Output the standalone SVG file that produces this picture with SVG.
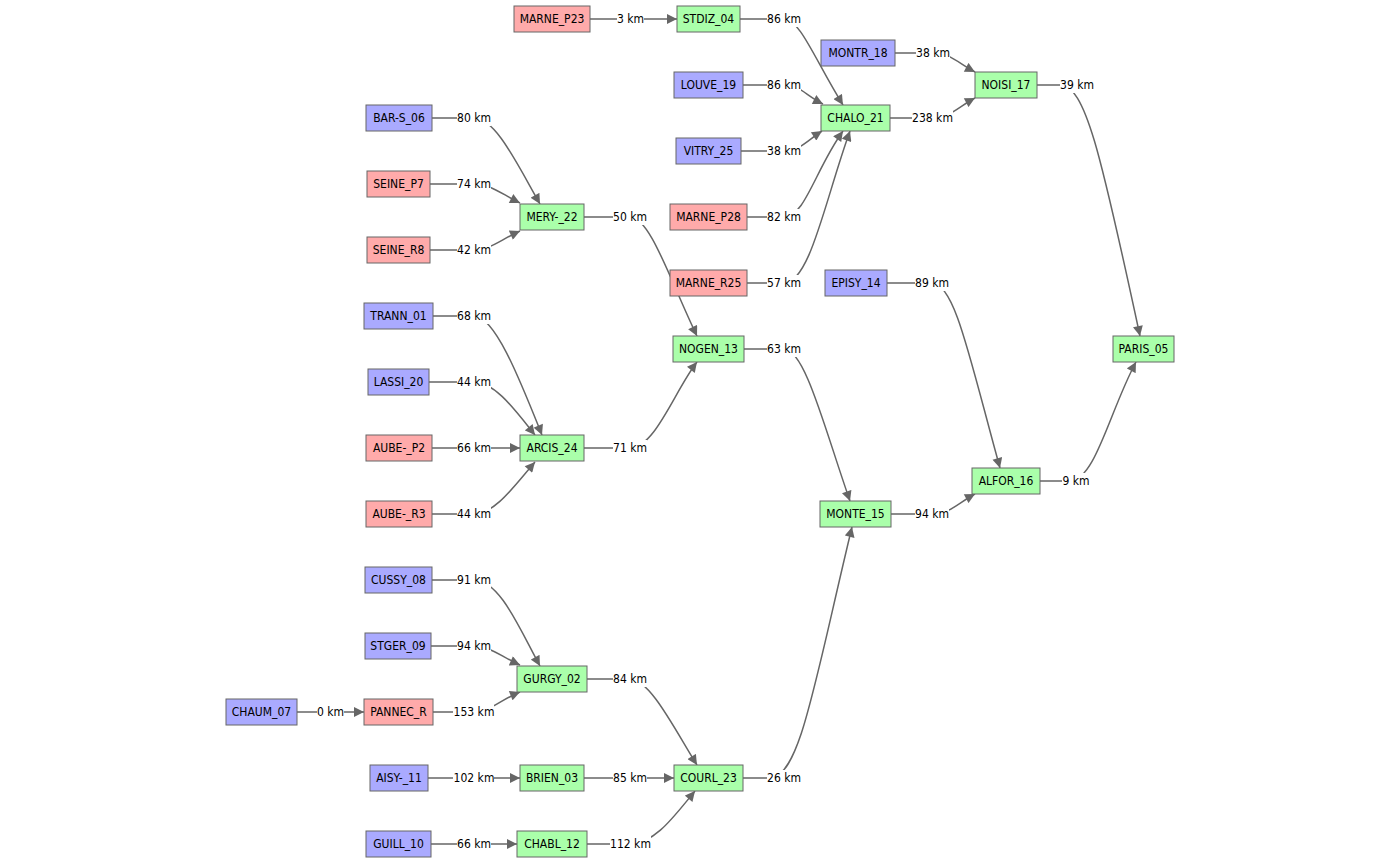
<svg xmlns="http://www.w3.org/2000/svg" width="1400" height="865" viewBox="0 0 1400 865">
  <defs>
    <marker id="arrow" viewBox="0 0 10 10" refX="10" refY="5" markerUnits="userSpaceOnUse" markerWidth="11" markerHeight="10" orient="auto">
      <path d="M0,0 L10,5 L0,10 z" fill="#666"/>
    </marker>
    <style>
      text { font-family: "DejaVu Sans Condensed", "DejaVu Sans", sans-serif; font-stretch: condensed; font-size: 12px; fill: #000; text-anchor: middle; dominant-baseline: central; }
      .node rect { stroke: #666; stroke-width: 1; }
      .green rect { fill: #aaffaa; }
      .blue rect { fill: #aaaaff; }
      .red rect { fill: #ffaaaa; }
      .edge { fill: none; stroke: #666; stroke-width: 1.5; marker-end: url(#arrow); }
      .lbl rect { fill: #fff; }
    </style>
  </defs>
  <rect width="1400" height="865" fill="#fff"/>

  <!-- connectors -->
  <g id="connectors">
    <path class="edge" d="M590,19 L677,19"/>
    <path class="edge" d="M740,19 L784,19 C800,19 815,60 843,105"/>
    <path class="edge" d="M743,85 L784,85 C800,85 805,95 823,104"/>
    <path class="edge" d="M741,151 L784,151 C800,151 808,140 822,131"/>
    <path class="edge" d="M747,217 L784,217 C805,217 815,170 843,131"/>
    <path class="edge" d="M747,283 L784,283 C810,283 825,200 850,131"/>
    <path class="edge" d="M895,53 L933,53 C950,53 958,63 975,72"/>
    <path class="edge" d="M890,118 L932,118 C950,118 958,107 975,98"/>
    <path class="edge" d="M1037,85 L1060,85 C1085,85 1100,150 1140,336"/>
    <path class="edge" d="M432,118 L474,118 C495,118 515,160 540,204"/>
    <path class="edge" d="M430,184 L474,184 C490,184 500,193 520,203"/>
    <path class="edge" d="M430,250 L474,250 C490,250 500,240 520,231"/>
    <path class="edge" d="M584,217 L630,217 C650,217 670,280 697,336"/>
    <path class="edge" d="M433,316 L474,316 C495,316 520,380 542,435"/>
    <path class="edge" d="M429,382 L474,382 C495,382 515,410 535,435"/>
    <path class="edge" d="M432,448 L520,448"/>
    <path class="edge" d="M432,514 L474,514 C495,514 515,485 535,462"/>
    <path class="edge" d="M584,448 L630,448 C655,448 675,390 697,362"/>
    <path class="edge" d="M744,349 L784,349 C805,349 825,430 850,501"/>
    <path class="edge" d="M887,283 L932,283 C955,283 970,360 1000,468"/>
    <path class="edge" d="M891,514 L932,514 C950,514 958,503 975,494"/>
    <path class="edge" d="M1040,481 L1070,481 C1095,481 1110,410 1136,362"/>
    <path class="edge" d="M432,580 L474,580 C500,580 520,630 540,666"/>
    <path class="edge" d="M431,646 L474,646 C490,646 500,656 520,665"/>
    <path class="edge" d="M433,712 L474,712 C490,712 500,700 520,692"/>
    <path class="edge" d="M297,712 L364,712"/>
    <path class="edge" d="M587,679 L630,679 C650,679 675,730 697,765"/>
    <path class="edge" d="M428,778 L520,778"/>
    <path class="edge" d="M584,778 L674,778"/>
    <path class="edge" d="M431,844 L517,844"/>
    <path class="edge" d="M587,844 L630,844 C655,844 675,815 695,791"/>
    <path class="edge" d="M743,778 L770,778 C800,778 815,680 852,527"/>
  </g>

  <!-- edge labels -->
  <g id="edge-labels" class="lbl">
    <rect x="617" y="11" width="27" height="16"/><text x="630.5" y="19">3 km</text>
    <rect x="767" y="11" width="34" height="16"/><text x="784" y="19">86 km</text>
    <rect x="767" y="77" width="34" height="16"/><text x="784" y="85">86 km</text>
    <rect x="767" y="143" width="34" height="16"/><text x="784" y="151">38 km</text>
    <rect x="767" y="209" width="34" height="16"/><text x="784" y="217">82 km</text>
    <rect x="767" y="275" width="34" height="16"/><text x="784" y="283">57 km</text>
    <rect x="916" y="45" width="34" height="16"/><text x="933" y="53">38 km</text>
    <rect x="912" y="110" width="41" height="16"/><text x="932.5" y="118">238 km</text>
    <rect x="1060" y="77" width="34" height="16"/><text x="1077" y="85">39 km</text>
    <rect x="457" y="110" width="34" height="16"/><text x="474" y="118">80 km</text>
    <rect x="457" y="176" width="34" height="16"/><text x="474" y="184">74 km</text>
    <rect x="457" y="242" width="34" height="16"/><text x="474" y="250">42 km</text>
    <rect x="613" y="209" width="34" height="16"/><text x="630" y="217">50 km</text>
    <rect x="457" y="308" width="34" height="16"/><text x="474" y="316">68 km</text>
    <rect x="457" y="374" width="34" height="16"/><text x="474" y="382">44 km</text>
    <rect x="457" y="440" width="34" height="16"/><text x="474" y="448">66 km</text>
    <rect x="457" y="506" width="34" height="16"/><text x="474" y="514">44 km</text>
    <rect x="613" y="440" width="34" height="16"/><text x="630" y="448">71 km</text>
    <rect x="767" y="341" width="34" height="16"/><text x="784" y="349">63 km</text>
    <rect x="915" y="275" width="34" height="16"/><text x="932" y="283">89 km</text>
    <rect x="915" y="506" width="34" height="16"/><text x="932" y="514">94 km</text>
    <rect x="1062" y="473" width="28" height="16"/><text x="1076" y="481">9 km</text>
    <rect x="457" y="572" width="34" height="16"/><text x="474" y="580">91 km</text>
    <rect x="457" y="638" width="34" height="16"/><text x="474" y="646">94 km</text>
    <rect x="453" y="704" width="41" height="16"/><text x="474" y="712">153 km</text>
    <rect x="317" y="704" width="27" height="16"/><text x="330.5" y="712">0 km</text>
    <rect x="613" y="671" width="34" height="16"/><text x="630" y="679">84 km</text>
    <rect x="453" y="770" width="41" height="16"/><text x="474" y="778">102 km</text>
    <rect x="613" y="770" width="34" height="16"/><text x="630" y="778">85 km</text>
    <rect x="457" y="836" width="34" height="16"/><text x="474" y="844">66 km</text>
    <rect x="610" y="836" width="41" height="16"/><text x="630.5" y="844">112 km</text>
    <rect x="767" y="770" width="34" height="16"/><text x="784" y="778">26 km</text>
  </g>

  <!-- nodes -->
  <g id="MARNE_P23" class="node red"><rect x="514" y="6" width="76" height="26"/><text x="552" y="19">MARNE_P23</text></g>
  <g id="STDIZ_04" class="node green"><rect x="677" y="6" width="63" height="26"/><text x="708.5" y="19">STDIZ_04</text></g>
  <g id="MONTR_18" class="node blue"><rect x="821" y="40" width="74" height="26"/><text x="858" y="53">MONTR_18</text></g>
  <g id="NOISI_17" class="node green"><rect x="975" y="72" width="62" height="26"/><text x="1006" y="85">NOISI_17</text></g>
  <g id="LOUVE_19" class="node blue"><rect x="674" y="72" width="69" height="26"/><text x="708.5" y="85">LOUVE_19</text></g>
  <g id="CHALO_21" class="node green"><rect x="821" y="105" width="69" height="26"/><text x="855.5" y="118">CHALO_21</text></g>
  <g id="BAR-S_06" class="node blue"><rect x="366" y="105" width="66" height="26"/><text x="399" y="118">BAR-S_06</text></g>
  <g id="VITRY_25" class="node blue"><rect x="676" y="138" width="65" height="26"/><text x="708.5" y="151">VITRY_25</text></g>
  <g id="SEINE_P7" class="node red"><rect x="367" y="171" width="63" height="26"/><text x="398.5" y="184">SEINE_P7</text></g>
  <g id="MERY-_22" class="node green"><rect x="520" y="204" width="64" height="26"/><text x="552" y="217">MERY-_22</text></g>
  <g id="SEINE_R8" class="node red"><rect x="367" y="237" width="63" height="26"/><text x="398.5" y="250">SEINE_R8</text></g>
  <g id="MARNE_P28" class="node red"><rect x="670" y="204" width="77" height="26"/><text x="708.5" y="217">MARNE_P28</text></g>
  <g id="MARNE_R25" class="node red"><rect x="670" y="270" width="77" height="26"/><text x="708.5" y="283">MARNE_R25</text></g>
  <g id="EPISY_14" class="node blue"><rect x="825" y="270" width="62" height="26"/><text x="856" y="283">EPISY_14</text></g>
  <g id="TRANN_01" class="node blue"><rect x="364" y="303" width="69" height="26"/><text x="398.5" y="316">TRANN_01</text></g>
  <g id="NOGEN_13" class="node green"><rect x="673" y="336" width="71" height="26"/><text x="708.5" y="349">NOGEN_13</text></g>
  <g id="PARIS_05" class="node green"><rect x="1113" y="336" width="61" height="26"/><text x="1143.5" y="349">PARIS_05</text></g>
  <g id="LASSI_20" class="node blue"><rect x="368" y="369" width="61" height="26"/><text x="398.5" y="382">LASSI_20</text></g>
  <g id="AUBE-_P2" class="node red"><rect x="366" y="435" width="66" height="26"/><text x="399" y="448">AUBE-_P2</text></g>
  <g id="ARCIS_24" class="node green"><rect x="520" y="435" width="64" height="26"/><text x="552" y="448">ARCIS_24</text></g>
  <g id="ALFOR_16" class="node green"><rect x="972" y="468" width="68" height="26"/><text x="1006" y="481">ALFOR_16</text></g>
  <g id="AUBE-_R3" class="node red"><rect x="366" y="501" width="66" height="26"/><text x="399" y="514">AUBE-_R3</text></g>
  <g id="MONTE_15" class="node green"><rect x="820" y="501" width="71" height="26"/><text x="855.5" y="514">MONTE_15</text></g>
  <g id="CUSSY_08" class="node blue"><rect x="365" y="567" width="67" height="26"/><text x="398.5" y="580">CUSSY_08</text></g>
  <g id="STGER_09" class="node blue"><rect x="365" y="633" width="66" height="26"/><text x="398" y="646">STGER_09</text></g>
  <g id="GURGY_02" class="node green"><rect x="517" y="666" width="70" height="26"/><text x="552" y="679">GURGY_02</text></g>
  <g id="CHAUM_07" class="node blue"><rect x="226" y="699" width="71" height="26"/><text x="261.5" y="712">CHAUM_07</text></g>
  <g id="PANNEC_R" class="node red"><rect x="364" y="699" width="69" height="26"/><text x="398.5" y="712">PANNEC_R</text></g>
  <g id="AISY-_11" class="node blue"><rect x="370" y="765" width="58" height="26"/><text x="399" y="778">AISY-_11</text></g>
  <g id="BRIEN_03" class="node green"><rect x="520" y="765" width="64" height="26"/><text x="552" y="778">BRIEN_03</text></g>
  <g id="COURL_23" class="node green"><rect x="674" y="765" width="69" height="26"/><text x="708.5" y="778">COURL_23</text></g>
  <g id="GUILL_10" class="node blue"><rect x="366" y="831" width="65" height="26"/><text x="398.5" y="844">GUILL_10</text></g>
  <g id="CHABL_12" class="node green"><rect x="517" y="831" width="70" height="26"/><text x="552" y="844">CHABL_12</text></g>
</svg>
